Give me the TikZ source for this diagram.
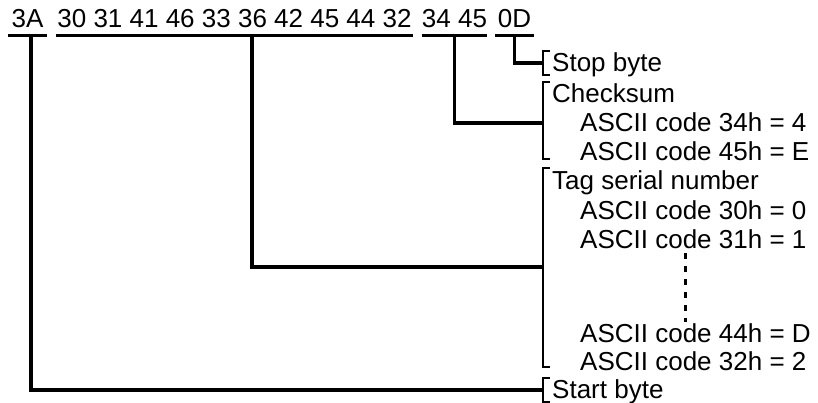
\documentclass[tikz,border=0pt]{standalone}
\usepackage{fontspec}
\setmainfont{Liberation Sans}
\newcommand{\fs}{\fontsize{26}{29}\selectfont}
\begin{document}
\begin{tikzpicture}[x=1pt,y=-1pt,
  conn/.style={line width=3.2pt},
  uline/.style={line width=3.2pt},
  brk/.style={line width=2.8pt},
  byte/.style={anchor=base, inner xsep=0pt, inner ysep=7pt, text depth=0pt, font=\fs},
  lbl/.style={anchor=base west, inner sep=0pt, font=\fs},
  dots/.style={line width=3pt, dash pattern=on 6pt off 7pt}]
\useasboundingbox (0,0) rectangle (818,403);
% top byte groups
\node[byte, minimum width=39pt]  (n3A)  at (27.5,28) {3A};
\node[byte, minimum width=357pt] (nTag) at (234.5,28) {30 31 41 46 33 36 42 45 44 32};
\node[byte, minimum width=63pt]  (nCk)  at (454.5,28) {34 45};
\node[byte, minimum width=39pt]  (n0D)  at (514.5,28) {0D};
\foreach \n in {n3A,nTag,nCk,n0D}
  \draw[uline] (\n.south west) -- (\n.south east);
% bracket anchor points
\coordinate (kStop)  at (543,63);
\coordinate (kCk)    at (543,123);
\coordinate (kTag)   at (543,267);
\coordinate (kStart) at (543,390);
% brackets
\draw[brk] (550,51)  -| (kStop)  |- (550,75);
\draw[brk] (550,82)  -| (kCk)    |- (550,159);
\draw[brk] (550,168) -| (kTag)   |- (550,367);
\draw[brk] (550,378) -| (kStart) |- (550,402);
% connectors
\draw[conn] (n0D.south) |- (kStop);
\draw[conn] (nCk.south) |- (kCk);
\draw[conn] ([xshift=17.5pt]nTag.south) |- (kTag);
\draw[conn] ([xshift=3.5pt]n3A.south) |- (kStart);
% labels
\node[lbl] (lStop)  at (552,72)  {Stop byte};
\node[lbl] (lCk)    at (552,103) {Checksum};
\node[lbl] (lC1)    at (580,132) {ASCII code 34h = 4};
\node[lbl] (lC2)    at (580,161) {ASCII code 45h = E};
\node[lbl] (lTag)   at (552,190) {Tag serial number};
\node[lbl] (lT1)    at (580,219) {ASCII code 30h = 0};
\node[lbl] (lT2)    at (580,248) {ASCII code 31h = 1};
\node[lbl] (lT3)    at (580,342) {ASCII code 44h = D};
\node[lbl] (lT4)    at (580,370) {ASCII code 32h = 2};
\node[lbl] (lStart) at (552,398) {Start byte};
% dotted ellipsis
\coordinate (dA) at (685,253);
\coordinate (dB) at (685,322);
\draw[dots] (dA) -- (dB);
\end{tikzpicture}
\end{document}
